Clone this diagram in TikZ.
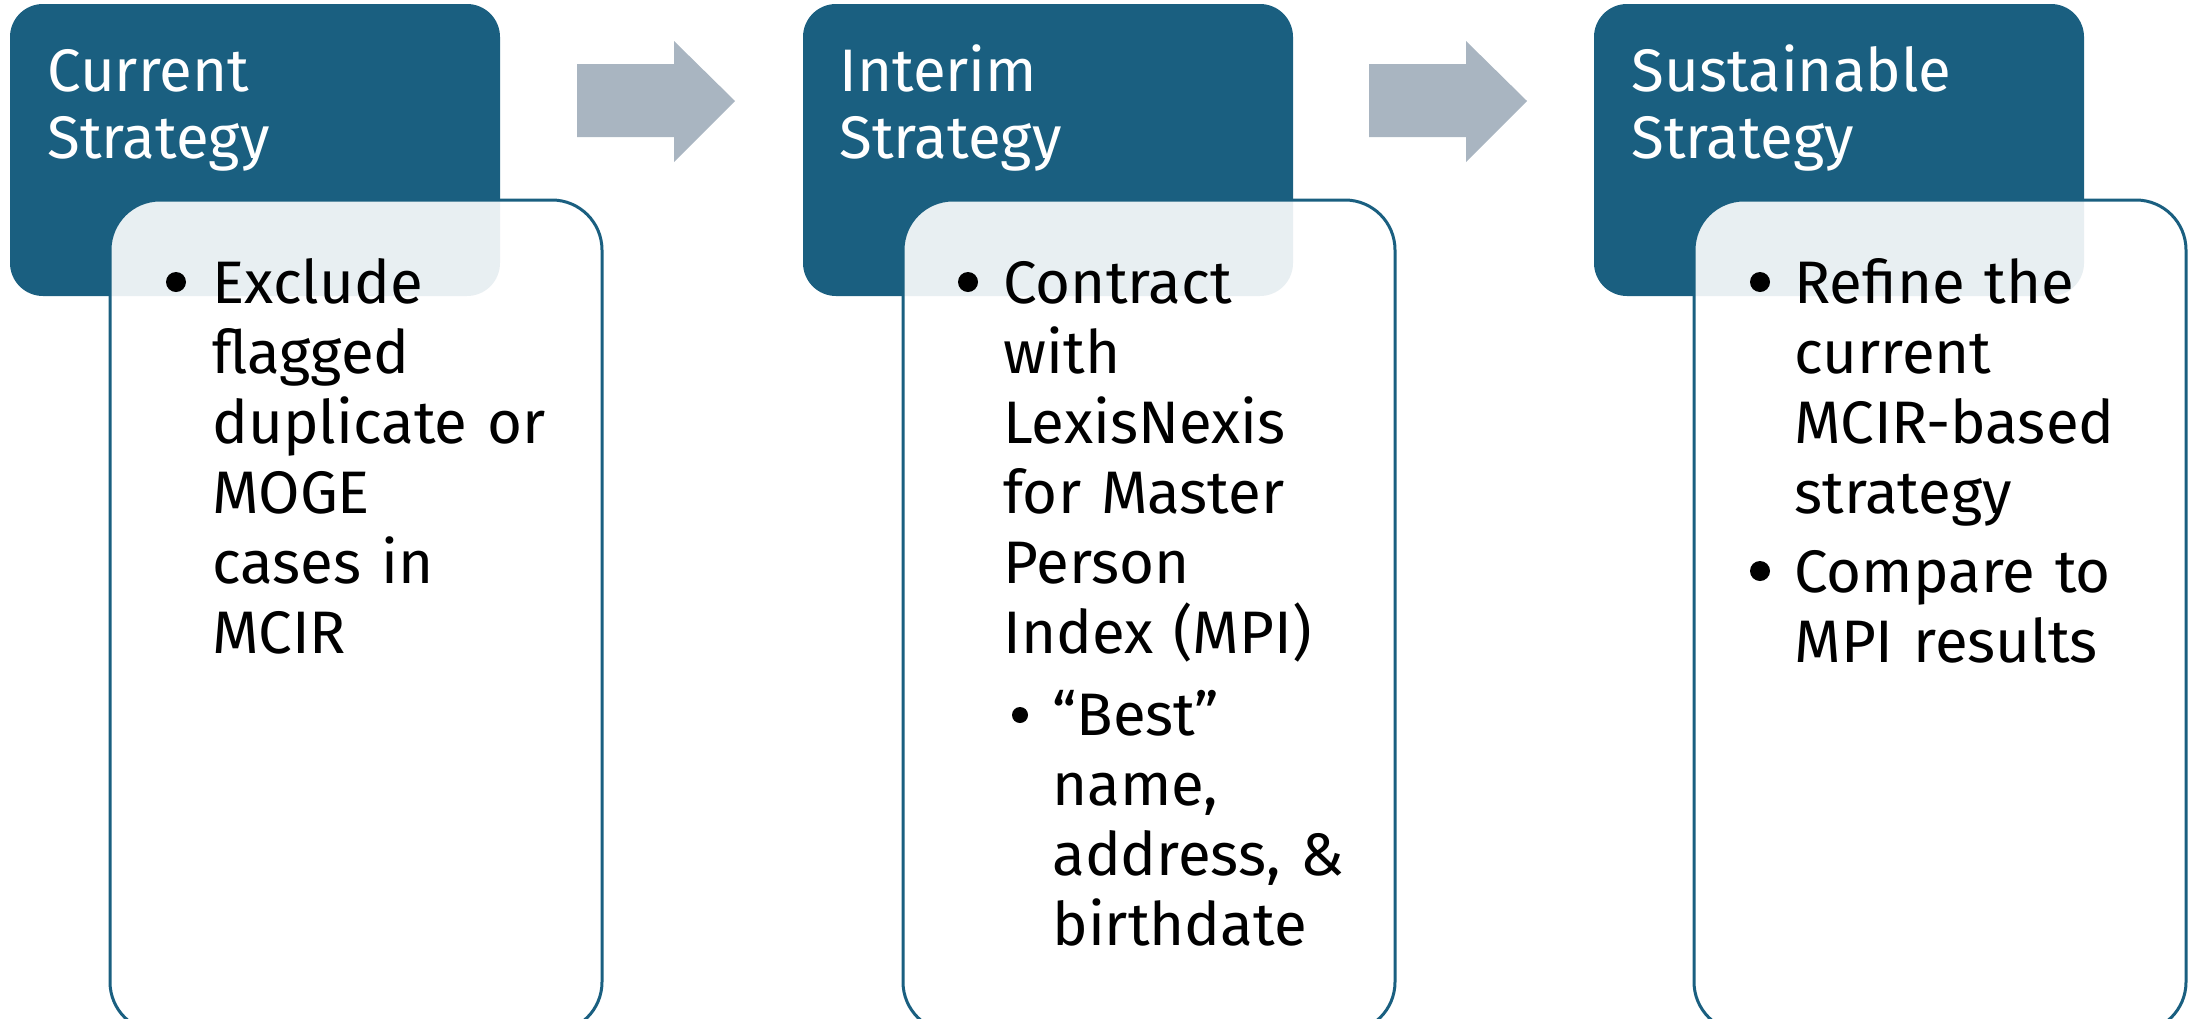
\documentclass[tikz,border=0pt]{standalone}
\usepackage{fontspec}
\setmainfont{Fira Sans}
\usepackage{xcolor}
\usepackage{tikz}
\usetikzlibrary{calc,positioning}

\definecolor{stratblue}{HTML}{1A5F80}
\definecolor{arrowgray}{HTML}{A9B5C1}

\begin{document}
\begin{tikzpicture}[x=0.5pt,y=-0.5pt]
\tikzstyle{every node}+=[inner sep=0pt]
\tikzstyle{headbox}=[fill=stratblue, rounded corners=16.5pt, minimum width=245pt, minimum height=146pt]
\tikzstyle{bodybox}=[draw=stratblue, line width=1.5pt, fill=white, fill opacity=0.9, rounded corners=25pt, minimum width=246pt, minimum height=416pt]
\tikzstyle{headtext}=[anchor=base west, text=white, align=left, text width=230pt, font=\fontsize{30pt}{33.5pt}\selectfont]
\tikzstyle{bodytext}=[anchor=base west, text=black, align=left, text width=200pt, font=\fontsize{30pt}{35pt}\selectfont]
\tikzstyle{dot}=[circle, fill=black, minimum size=10pt]
\tikzstyle{subdot}=[circle, fill=black, minimum size=8pt]
    \useasboundingbox (0,0) rectangle (2200,1018);
    \clip (0,0) rectangle (2200,1018);
    % block arrows
    \fill [arrowgray] (577,64) -- (674,64) -- (674,41) -- (735,101) -- (674,162) -- (674,137) -- (577,137) -- cycle;
    \fill [arrowgray] (1369,64) -- (1466,64) -- (1466,41) -- (1527,101) -- (1466,162) -- (1466,137) -- (1369,137) -- cycle;
    % headers
    \node [headbox] (curhead) at (255,150) {};
    \node [headbox] (inthead) at (1048,150) {};
    \node [headbox] (sushead) at (1839,150) {};
    \node [headtext] (curtitle) at (47,91) {Current\\Strategy};
    \node [headtext] (inttitle) at (839,91) {Interim\\Strategy};
    \node [headtext] (sustitle) at (1631,91) {Sustainable\\Strategy};
    % bodies
    \node [bodybox] (curbody) at (356,616) {};
    \node [bodybox] (intbody) at (1149,616) {};
    \node [bodybox] (susbody) at (1940,616) {};
    % current
    \node [dot] (curdot) at (176,282) {};
    \node [bodytext] (curtext) at (212,303) {Exclude\\flagged\\duplicate or\\MOGE\\cases in\\MCIR};
    % interim
    \node [dot] (intdot) at (968,282) {};
    \node [bodytext] (inttext) at (1003,303) {Contract\\with\\LexisNexis\\for Master\\Person\\Index (MPI)};
    \node [subdot] (bestdot) at (1020,715) {};
    \node [bodytext] (besttext) at (1052,735) {“Best”\\name,\\address, \&\\birthdate};
    % sustainable
    \node [dot] (refdot) at (1760,282) {};
    \node [bodytext] (reftext) at (1794,303) {Refine the\\current\\MCIR-based\\strategy};
    \node [dot] (cmpdot) at (1760,571) {};
    \node [bodytext] (cmptext) at (1794,592) {Compare to\\MPI results};
\end{tikzpicture}
\end{document}
